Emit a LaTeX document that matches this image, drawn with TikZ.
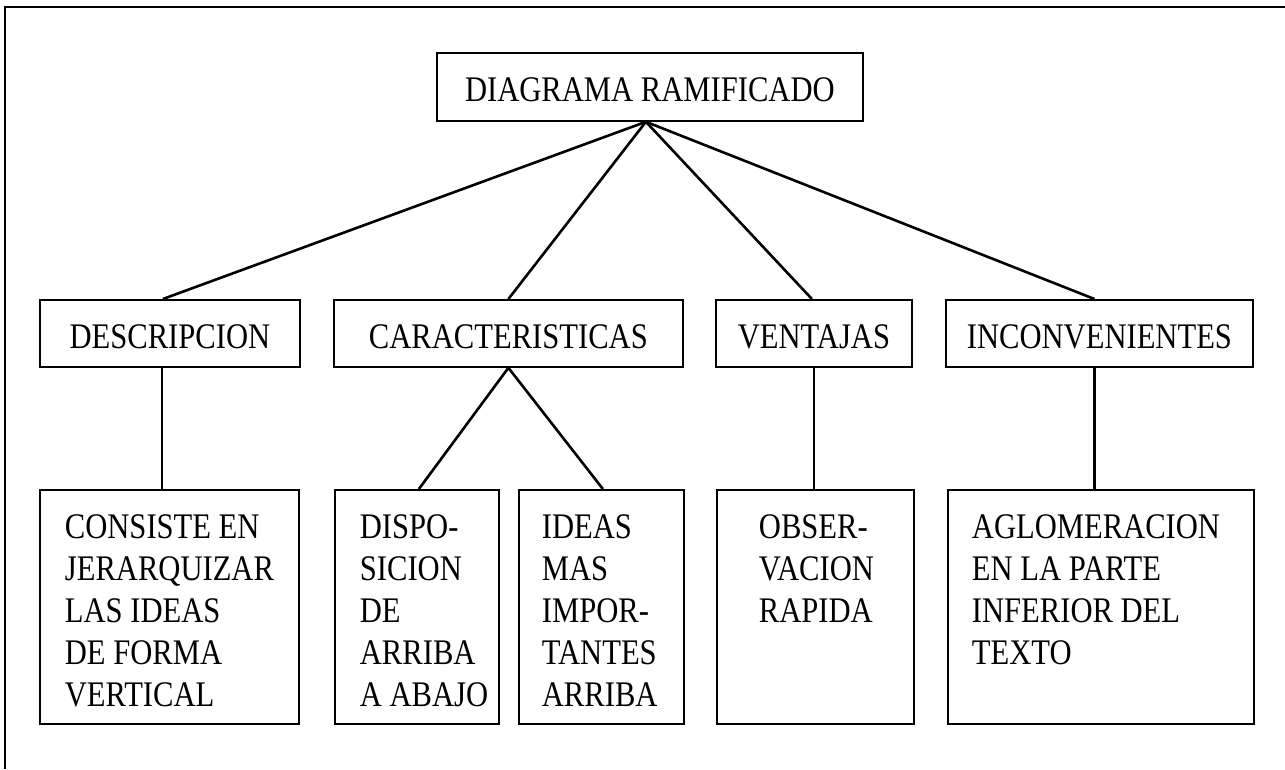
\documentclass[tikz,border=0pt]{standalone}
\usepackage{fontspec}
\setmainfont{Liberation Serif}[FakeStretch=0.85]
\newcommand{\boxtext}[4]{\parbox[c][#1][t]{#2}{\raggedright\leftskip=#3\relax\vspace*{25pt}#4}}
\begin{document}
\begin{tikzpicture}[x=1pt,y=-1pt,
  lbl/.style={draw, line width=1.8pt, inner sep=0pt, font=\fontsize{36}{42}\selectfont, text height=49pt, text depth=18pt, anchor=north west},
  tall/.style={draw, line width=1.8pt, inner sep=0pt, font=\fontsize{36}{42}\selectfont, anchor=north west},
  link/.style={line width=2.6pt}]
\useasboundingbox (0,0) rectangle (1285,769);
\draw[line width=2.2pt] (5,769) -- (5,7) -- (1285,7);
% top
\node[lbl, minimum width=426pt, text depth=19pt] (T) at (436,52) {DIAGRAMA RAMIFICADO};
% row 2
\node[lbl, minimum width=260pt] (D1) at (39,299) {DESCRIPCION};
\node[lbl, minimum width=349pt] (C1) at (333,299) {CARACTERISTICAS};
\node[lbl, minimum width=196pt] (V1) at (715,299) {VENTAJAS};
\node[lbl, minimum width=307pt] (I1) at (945,299) {INCONVENIENTES};
% row 3
\node[tall] (D2) at (39,489) {\boxtext{234pt}{259pt}{25pt}{CONSISTE EN\\JERARQUIZAR\\LAS IDEAS\\DE FORMA\\VERTICAL}};
\node[tall] (C2a) at (334,489) {\boxtext{234pt}{164pt}{25pt}{DISPO-\\SICION\\DE\\ARRIBA\\A ABAJO}};
\node[tall] (C2b) at (518,489) {\boxtext{234pt}{165pt}{23pt}{IDEAS\\MAS\\IMPOR-\\TANTES\\ARRIBA}};
\node[tall] (V2) at (716,489) {\boxtext{234pt}{197pt}{42pt}{OBSER-\\VACION\\RAPIDA}};
\node[tall] (I2) at (947,489) {\boxtext{234pt}{306pt}{24pt}{AGLOMERACION\\EN LA PARTE\\INFERIOR DEL\\TEXTO}};
% connectors
\coordinate (apex) at ([xshift=-4pt]T.south);
\draw[link] (apex) -- ([xshift=-7pt]D1.north);
\draw[link] (apex) -- (C1.north);
\draw[link] (apex) -- ([xshift=-2pt]V1.north);
\draw[link] (apex) -- ([xshift=-5pt]I1.north);
\draw[link] ([xshift=-8pt]D1.south) -- ([xshift=-8pt]D1.south |- D2.north);
\draw[link] (C1.south) -- ([xshift=2pt]C2a.north);
\draw[link] (C1.south) -- ([xshift=1.5pt]C2b.north);
\draw[link] (V1.south) -- (V1.south |- V2.north);
\draw[link] ([xshift=-5pt]I1.south) -- ([xshift=-5pt]I1.south |- I2.north);
\end{tikzpicture}
\end{document}
